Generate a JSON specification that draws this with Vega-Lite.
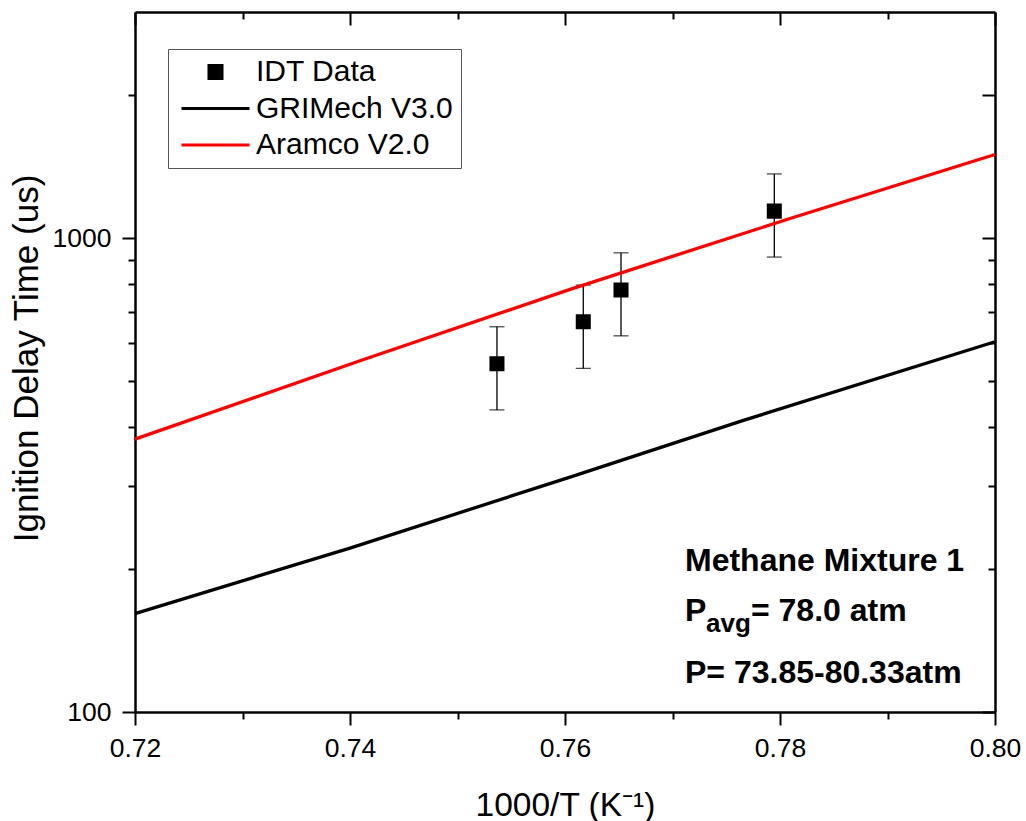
{
  "$schema": "https://vega.github.io/schema/vega-lite/v6.json",
  "autosize": {"type": "none"},
  "padding": {"left": 135, "top": 12, "right": 31, "bottom": 109},
  "width": 860,
  "height": 700,
  "background": "white",
  "config": {
    "view": {"stroke": null},
    "axis": {"grid": false, "domainColor": "black", "tickColor": "black", "labelColor": "black", "titleColor": "black", "labelFont": "Liberation Sans", "titleFont": "Liberation Sans", "tickWidth": 2, "domainWidth": 2.5, "labelFlush": false, "labelOverlap": false, "labelBound": false},
    "text": {"font": "Liberation Sans"}
  },
  "datasets": {
    "pts": [
      {"x": 0.75367, "y": 543, "lo": 434, "hi": 650, "series": "IDT Data"},
      {"x": 0.7617, "y": 666, "lo": 531, "hi": 796, "series": "IDT Data"},
      {"x": 0.76521, "y": 777, "lo": 622, "hi": 931, "series": "IDT Data"},
      {"x": 0.77947, "y": 1140, "lo": 912, "hi": 1366, "series": "IDT Data"}
    ],
    "lines": [
      {"model": "GRIMech V3.0", "x": 0.72, "v": 161.3},
      {"model": "GRIMech V3.0", "x": 0.74, "v": 221.8},
      {"model": "GRIMech V3.0", "x": 0.76047, "v": 313.1},
      {"model": "GRIMech V3.0", "x": 0.77674, "v": 413.4},
      {"model": "GRIMech V3.0", "x": 0.8, "v": 604.5},
      {"model": "Aramco V2.0", "x": 0.72, "v": 376.5},
      {"model": "Aramco V2.0", "x": 0.74093, "v": 551},
      {"model": "Aramco V2.0", "x": 0.76047, "v": 779.6},
      {"model": "Aramco V2.0", "x": 0.78093, "v": 1100},
      {"model": "Aramco V2.0", "x": 0.8, "v": 1501}
    ]
  },
  "layer": [
    {
      "data": {"name": "pts"},
      "mark": {"type": "errorbar", "color": "black", "ticks": {"size": 15, "thickness": 1.3, "color": "black"}, "rule": {"strokeWidth": 1.3, "color": "black"}},
      "encoding": {
        "x": {"field": "x", "type": "quantitative", "scale": {"domain": [0.72, 0.8], "nice": false, "zero": false}, "axis": null},
        "y": {"field": "lo", "type": "quantitative", "scale": {"type": "log", "domain": [100, 3000], "nice": false}, "axis": null},
        "y2": {"field": "hi"}
      }
    },
    {
      "data": {"name": "lines"},
      "mark": {"type": "line", "strokeWidth": 3.3},
      "encoding": {
        "x": {"field": "x", "type": "quantitative", "axis": {"orient": "bottom", "values": [0.72, 0.74, 0.76, 0.78, 0.8], "format": ".2f", "tickSize": 13, "labelFontSize": 26.5, "labelPadding": 10, "title": "1000/T (K⁻¹)", "titleFontSize": 33.5, "titleFontWeight": "normal", "titleY": 103, "titleBaseline": "alphabetic"}},
        "y": {"field": "v", "type": "quantitative", "axis": {"orient": "left", "values": [100, 1000], "format": "d", "tickSize": 13, "labelFontSize": 26.5, "labelPadding": 11, "title": "Ignition Delay Time (us)", "titleFontSize": 35, "titleFontWeight": "normal", "titleX": -98, "titleY": 346, "titleAngle": 270, "titleBaseline": "alphabetic", "titleAlign": "center"}},
        "color": {"field": "model", "type": "nominal", "scale": {"domain": ["GRIMech V3.0", "Aramco V2.0"], "range": ["black", "#ff0000"]}, "legend": null}
      }
    },
    {
      "data": {"name": "pts"},
      "mark": {"type": "point", "filled": true, "opacity": 1, "strokeWidth": 2},
      "encoding": {
        "x": {"field": "x", "type": "quantitative", "axis": {"orient": "bottom", "values": [0.73, 0.75, 0.77, 0.79], "tickSize": 7, "labels": false, "domain": false, "title": null}},
        "y": {"field": "y", "type": "quantitative", "axis": {"orient": "left", "values": [200, 300, 400, 500, 600, 700, 800, 900, 2000], "tickSize": 7, "labels": false, "domain": false, "title": null}},
        "fill": {"field": "series", "type": "nominal", "scale": {"domain": ["IDT Data", "GRIMech V3.0", "Aramco V2.0"], "range": ["black", "black", "#ff0000"]}, "legend": {"orient": "none", "legendX": 33, "legendY": 37, "title": null, "padding": 8, "strokeColor": "#555555", "fillColor": "white", "labelFontSize": 30, "labelFont": "Liberation Sans", "labelColor": "black", "labelLimit": 500, "clipHeight": 30, "rowPadding": 6.5, "symbolOffset": 4, "labelOffset": 5, "symbolStrokeWidth": 3}},
        "stroke": {"field": "series", "type": "nominal", "scale": {"domain": ["IDT Data", "GRIMech V3.0", "Aramco V2.0"], "range": ["black", "black", "#ff0000"]}, "legend": {"orient": "none", "legendX": 33, "legendY": 37, "title": null, "padding": 8, "strokeColor": "#555555", "fillColor": "white", "labelFontSize": 30, "labelFont": "Liberation Sans", "labelColor": "black", "labelLimit": 500, "clipHeight": 30, "rowPadding": 6.5, "symbolOffset": 4, "labelOffset": 5, "symbolStrokeWidth": 3}},
        "shape": {"field": "series", "type": "nominal", "scale": {"domain": ["IDT Data", "GRIMech V3.0", "Aramco V2.0"], "range": ["square", "stroke", "stroke"]}, "legend": {"orient": "none", "legendX": 33, "legendY": 37, "title": null, "padding": 8, "strokeColor": "#555555", "fillColor": "white", "labelFontSize": 30, "labelFont": "Liberation Sans", "labelColor": "black", "labelLimit": 500, "clipHeight": 30, "rowPadding": 6.5, "symbolOffset": 4, "labelOffset": 5, "symbolStrokeWidth": 3}},
        "size": {"field": "series", "type": "nominal", "scale": {"type": "ordinal", "domain": ["IDT Data", "GRIMech V3.0", "Aramco V2.0"], "range": [170, 4624, 4624]}, "legend": {"orient": "none", "legendX": 33, "legendY": 37, "title": null, "padding": 8, "strokeColor": "#555555", "fillColor": "white", "labelFontSize": 30, "labelFont": "Liberation Sans", "labelColor": "black", "labelLimit": 500, "clipHeight": 30, "rowPadding": 6.5, "symbolOffset": 4, "labelOffset": 5, "symbolStrokeWidth": 3}}
      }
    },
    {
      "data": {"values": [{"label": "Methane Mixture 1"}]},
      "mark": {"type": "text", "align": "left", "baseline": "alphabetic", "fontSize": 32, "fontWeight": "bold", "color": "black"},
      "encoding": {
        "x": {"datum": 0.77116, "type": "quantitative", "axis": {"orient": "top", "values": [0.72, 0.74, 0.76, 0.78, 0.8], "tickSize": -13, "labels": false, "domain": true, "title": null}},
        "y": {"datum": 198, "type": "quantitative", "axis": {"orient": "right", "values": [100, 1000, 2000], "tickSize": -13, "labels": false, "domain": true, "title": null}},
        "text": {"field": "label"}
      }
    },
    {
      "data": {"values": [{"label": "P"}]},
      "mark": {"type": "text", "align": "left", "baseline": "alphabetic", "fontSize": 32, "fontWeight": "bold", "color": "black"},
      "encoding": {
        "x": {"datum": 0.77116, "type": "quantitative", "axis": {"orient": "top", "values": [0.73, 0.75, 0.77, 0.79], "tickSize": -7, "labels": false, "domain": false, "title": null}},
        "y": {"datum": 155.4, "type": "quantitative", "axis": {"orient": "right", "values": [200, 300, 400, 500, 600, 700, 800, 900], "tickSize": -7, "labels": false, "domain": false, "title": null}},
        "text": {"field": "label"}
      }
    },
    {
      "data": {"values": [{"label": "avg"}]},
      "mark": {"type": "text", "align": "left", "baseline": "alphabetic", "fontSize": 26, "fontWeight": "bold", "color": "black"},
      "encoding": {
        "x": {"datum": 0.77312, "type": "quantitative", "axis": null},
        "y": {"datum": 147.8, "type": "quantitative", "axis": null},
        "text": {"field": "label"}
      }
    },
    {
      "data": {"values": [{"label": "= 78.0 atm"}]},
      "mark": {"type": "text", "align": "left", "baseline": "alphabetic", "fontSize": 32, "fontWeight": "bold", "color": "black"},
      "encoding": {
        "x": {"datum": 0.7773, "type": "quantitative", "axis": null},
        "y": {"datum": 155.4, "type": "quantitative", "axis": null},
        "text": {"field": "label"}
      }
    },
    {
      "data": {"values": [{"label": "P= 73.85-80.33atm"}]},
      "mark": {"type": "text", "align": "left", "baseline": "alphabetic", "fontSize": 32, "fontWeight": "bold", "color": "black"},
      "encoding": {
        "x": {"datum": 0.77116, "type": "quantitative", "axis": null},
        "y": {"datum": 115.3, "type": "quantitative", "axis": null},
        "text": {"field": "label"}
      }
    }
  ],
  "resolve": {"axis": {"x": "independent", "y": "independent"}}
}
